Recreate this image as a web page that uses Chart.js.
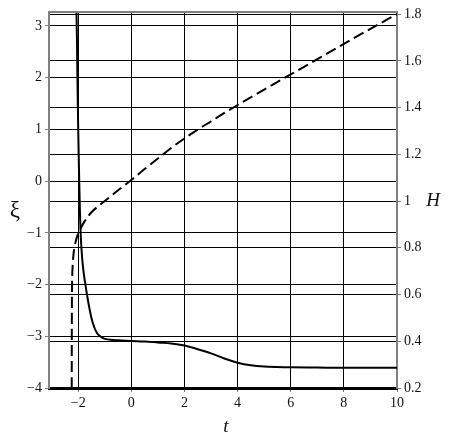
<!DOCTYPE html>
<html>
<head>
<meta charset="utf-8">
<script src="https://cdn.jsdelivr.net/npm/chart.js@4"></script>
<style>
  html, body { margin: 0; padding: 0; background: #fff; }
  #wrap { width: 452px; height: 441px; }
</style>
</head>
<body>
<div id="wrap"><canvas id="chart" width="452" height="441"></canvas></div>
<script>
// xi(t), solid curve, left axis
const tXi = [-2.07, -2.05, -2.03, -2.01, -1.99, -1.97, -1.94, -1.9, -1.85, -1.8, -1.7, -1.6, -1.5, -1.4, -1.3, -1.2, -1.0, -0.7, -0.4, 0, 0.5, 1.0, 1.5, 2.0, 2.5, 3.0, 3.5, 4.0, 4.5, 5.0, 5.5, 6, 7, 8, 9, 10];
const xiVals = [3.4, 2.8, 2.0, 1.3, 0.7, 0.2, -0.5, -1.1, -1.5, -1.75, -2.1, -2.4, -2.65, -2.82, -2.93, -2.99, -3.05, -3.07, -3.08, -3.09, -3.1, -3.12, -3.14, -3.18, -3.25, -3.33, -3.43, -3.51, -3.56, -3.585, -3.595, -3.6, -3.605, -3.61, -3.61, -3.61];

// H(t), dashed curve, right axis
const tH = [-2.245, -2.24, -2.23, -2.21, -2.17, -2.1, -2.0, -1.9, -1.75, -1.5, -1.0, -0.5, 0, 0.5, 1.0, 1.5, 2.0, 2.5, 3.0, 3.5, 4.0, 5.0, 6.0, 7.0, 8.0, 9.0, 10.0];
const hVals = [0.2, 0.5, 0.65, 0.72, 0.78, 0.825, 0.862, 0.885, 0.915, 0.952, 1.0, 1.046, 1.09, 1.137, 1.182, 1.227, 1.268, 1.306, 1.341, 1.377, 1.411, 1.477, 1.542, 1.607, 1.673, 1.737, 1.8];

const tTicks = [-2, 0, 2, 4, 6, 8, 10];
const xiTicks = [-4, -3, -2, -1, 0, 1, 2, 3];
const hTicks = [0.2, 0.4, 0.6, 0.8, 1, 1.2, 1.4, 1.6, 1.8];

const serif = "'Liberation Serif', 'Times New Roman', serif";
const tickFont = { family: serif, size: 14 };

function fmt(v) {
  return v < 0 ? "\u2212" + Math.abs(v) : String(v);
}

// axis titles at fixed spots, plus the top frame line
const titles = {
  id: "titles",
  afterDraw(chart) {
    const ctx = chart.ctx;
    const a = chart.chartArea;
    ctx.save();
    ctx.strokeStyle = "#808080";
    ctx.lineWidth = 2;
    ctx.beginPath();
    ctx.moveTo(a.left - 1, a.top);
    ctx.lineTo(a.right + 1, a.top);
    ctx.stroke();
    ctx.fillStyle = "#111";
    ctx.textAlign = "center";
    ctx.textBaseline = "middle";
    ctx.font = "23px " + serif;
    ctx.fillText("\u03BE", 15, 211);
    ctx.font = "italic 19px " + serif;
    ctx.fillText("H", 433, 201);
    ctx.fillText("t", 226, 427);
    ctx.restore();
  },
};

const fixed = (w) => (scale) => {
  if (scale.isHorizontal()) scale.height = w;
  else scale.width = w;
};

new Chart(document.getElementById("chart").getContext("2d"), {
  type: "line",
  data: {
    datasets: [
      {
        label: "xi",
        data: tXi.map((t, i) => ({ x: t, y: xiVals[i] })),
        yAxisID: "y",
        borderColor: "#000",
        borderWidth: 2,
        pointRadius: 0,
        cubicInterpolationMode: "monotone",
      },
      {
        label: "H",
        data: tH.map((t, i) => ({ x: t, y: hVals[i] })),
        yAxisID: "y2",
        borderColor: "#000",
        borderWidth: 2,
        borderDash: [11, 5],
        pointRadius: 0,
        cubicInterpolationMode: "monotone",
      },
    ],
  },
  options: {
    responsive: false,
    animation: false,
    layout: { padding: { top: 12, left: 0, right: 0, bottom: 0 } },
    plugins: { legend: { display: false }, tooltip: { enabled: false } },
    scales: {
      x: {
        type: "linear",
        min: -3.1,
        max: 10,
        afterBuildTicks: (s) => { s.ticks = tTicks.map((v) => ({ value: v })); },
        afterFit: fixed(53),
        ticks: { font: tickFont, color: "#111", padding: 3, callback: fmt, maxRotation: 0 },
        grid: { color: "#000", lineWidth: 1, tickLength: 4, tickColor: "#808080" },
        border: { color: "#000", width: 3 },
      },
      y: {
        type: "linear",
        position: "left",
        min: -4,
        max: 3.27,
        afterBuildTicks: (s) => { s.ticks = xiTicks.map((v) => ({ value: v })); },
        afterFit: fixed(49),
        ticks: { font: tickFont, color: "#111", padding: 3, callback: fmt },
        grid: { color: "#000", lineWidth: 1, tickLength: 4, tickColor: "#808080" },
        border: { color: "#808080", width: 2 },
      },
      y2: {
        type: "linear",
        position: "right",
        min: 0.2,
        max: 1.809,
        afterBuildTicks: (s) => { s.ticks = hTicks.map((v) => ({ value: v })); },
        afterFit: fixed(55),
        ticks: { font: tickFont, color: "#111", padding: 3, callback: fmt },
        grid: { color: "#000", lineWidth: 1, tickLength: 4, tickColor: "#808080" },
        border: { color: "#808080", width: 2 },
      },
    },
  },
  plugins: [titles],
});
</script>
</body>
</html>
